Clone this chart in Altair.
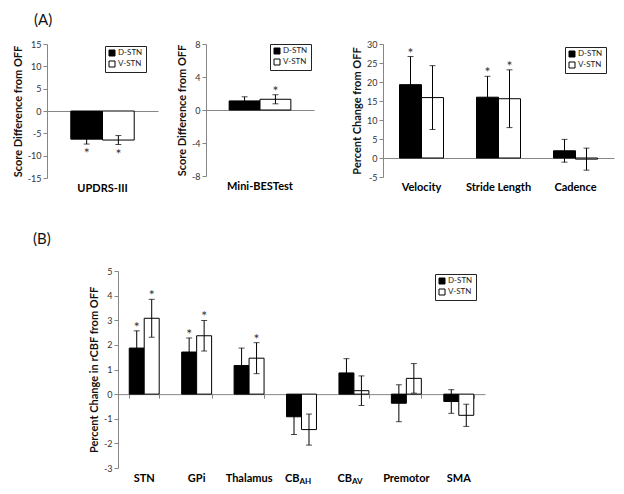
import altair as alt
import pandas as pd

FONT = "Lato"
AX = "#868686"
groups = ["D-STN", "V-STN"]

# Panel A1: UPDRS-III (score difference from OFF)
updrs_cats = ["UPDRS-III"]
updrs_d = [-6.3]
updrs_d_err = [1.1]
updrs_v = [-6.5]
updrs_v_err = [1.0]
updrs_d_sig = [1]
updrs_v_sig = [1]

# Panel A2: Mini-BESTest
mb_cats = ["Mini-BESTest"]
mb_d = [1.1]
mb_d_err = [0.5]
mb_v = [1.3]
mb_v_err = [0.55]
mb_d_sig = [0]
mb_v_sig = [1]

# Panel A3: gait (percent change from OFF)
gait_cats = ["Velocity", "Stride Length", "Cadence"]
gait_d = [19.3, 16.0, 1.9]
gait_d_err = [7.4, 5.5, 3.0]
gait_v = [15.9, 15.6, -0.3]
gait_v_err = [8.4, 7.6, 2.9]
gait_d_sig = [1, 1, 0]
gait_v_sig = [0, 1, 0]

# Panel B: rCBF
cbf_cats = ["STN", "GPi", "Thalamus", "CB_AH", "CB_AV", "Premotor", "SMA"]
cbf_main = ["STN", "GPi", "Thalamus", "CB", "CB", "Premotor", "SMA"]
cbf_sub = ["", "", "", "AH", "AV", "", ""]
cbf_d = [1.87, 1.71, 1.16, -0.92, 0.86, -0.37, -0.30]
cbf_d_err = [0.70, 0.57, 0.71, 0.72, 0.58, 0.75, 0.48]
cbf_v = [3.08, 2.37, 1.46, -1.44, 0.14, 0.64, -0.86]
cbf_v_err = [0.77, 0.62, 0.63, 0.63, 0.60, 0.60, 0.45]
cbf_d_sig = [1, 1, 0, 0, 0, 0, 0]
cbf_v_sig = [1, 1, 1, 0, 0, 0, 0]


def make_df(cats, dv, de, vv, ve, ds, vs):
    rows = []
    for i, c in enumerate(cats):
        for g, v, e, s in (("D-STN", dv[i], de[i], ds[i]), ("V-STN", vv[i], ve[i], vs[i])):
            rows.append(dict(cat=c, grp=g, val=v, err=e, lo=v - e, hi=v + e, sig=s,
                             pos=1 if v >= 0 else 0, star=(v + e) if v >= 0 else (v - e)))
    return pd.DataFrame(rows)


def panel(df, cats, mains, subs, ydom, yticks, ytitle, w, h, xrange=None, yoff=0,
          lx=0, ly=0, ticks=False, title=None):
    sk = dict(domain=cats, paddingInner=3 / 7, paddingOuter=3 / 14)
    if xrange is not None:
        sk["range"] = xrange
    xs = alt.Scale(**sk)
    zero_off = -h * (0 - ydom[0]) / (ydom[1] - ydom[0])
    xax = alt.Axis(orient="bottom", offset=zero_off, labels=False, title=None,
                   domainColor=AX, domainWidth=1, ticks=ticks, tickBand="extent",
                   tickSize=4, tickColor=AX, grid=False)
    X = alt.X("cat:N", scale=xs, axis=xax, title=None)
    XO = alt.XOffset("grp:N", scale=alt.Scale(domain=groups, paddingInner=0, paddingOuter=0))
    ys = alt.Scale(domain=ydom, nice=False)
    yax = alt.Axis(values=yticks, title=ytitle, titleFont=FONT, titleFontSize=11,
                   titleFontWeight="bold", titleColor="#111", labelFont=FONT,
                   labelFontSize=9, labelColor="#333", domainColor=AX, tickColor=AX,
                   tickSize=4, labelPadding=2, titlePadding=4, grid=False, offset=yoff,
                   labelExpr="'' + datum.value")

    def Y(f):
        return alt.Y(f"{f}:Q", scale=ys, axis=yax, title=ytitle)

    base = alt.Chart(df)
    bars = base.mark_bar(stroke="black", strokeWidth=1).encode(
        x=X, xOffset=XO, y=Y("val"),
        color=alt.Color("grp:N", scale=alt.Scale(domain=groups, range=["#000000", "#ffffff"]),
                        legend=alt.Legend(title=None, orient="none", legendX=lx, legendY=ly,
                                          direction="vertical", symbolType="square",
                                          symbolSize=36, symbolStrokeColor="black",
                                          symbolStrokeWidth=1, labelFont=FONT,
                                          labelFontSize=8, labelColor="#222", labelOffset=2,
                                          strokeColor="#222", fillColor="white",
                                          padding=3, rowPadding=1)))
    err = base.mark_rule(color="black", strokeWidth=1).encode(
        x=X, xOffset=XO, y=Y("lo"), y2="hi:Q")
    cap_lo = base.mark_tick(color="black", size=6, thickness=1).encode(x=X, xOffset=XO, y=Y("lo"))
    cap_hi = base.mark_tick(color="black", size=6, thickness=1).encode(x=X, xOffset=XO, y=Y("hi"))
    star_up = base.transform_filter("datum.sig == 1 && datum.pos == 1").mark_text(
        text="*", font=FONT, fontSize=14, baseline="middle", dy=-3, color="#333").encode(
        x=X, xOffset=XO, y=Y("star"))
    star_dn = base.transform_filter("datum.sig == 1 && datum.pos == 0").mark_text(
        text="*", font=FONT, fontSize=14, baseline="middle", dy=10, color="#333").encode(
        x=X, xOffset=XO, y=Y("star"))
    lab = pd.DataFrame({"cat": cats, "main": mains, "sub": subs})
    lb = alt.Chart(lab)
    lab_c = lb.transform_filter("datum.sub == ''").mark_text(
        font=FONT, fontSize=11, fontWeight="bold", baseline="middle", align="center",
        color="black").encode(x=X, y=alt.value(h + 11), text="main:N")
    lab_m = lb.transform_filter("datum.sub != ''").mark_text(
        font=FONT, fontSize=11, fontWeight="bold", baseline="middle", align="right", dx=-2,
        color="black").encode(x=X, y=alt.value(h + 11), text="main:N")
    lab_s = lb.transform_filter("datum.sub != ''").mark_text(
        font=FONT, fontSize=8, fontWeight="bold", baseline="middle", align="left", dx=-2,
        dy=3, color="black").encode(x=X, y=alt.value(h + 11), text="sub:N")
    layers = [bars, err, cap_lo, cap_hi, star_up, star_dn, lab_c]
    if any(s != "" for s in subs):
        layers += [lab_m, lab_s]
    props = dict(width=w, height=h)
    if title is not None:
        props["title"] = title
    return alt.layer(*layers).properties(**props)


p1 = panel(make_df(updrs_cats, updrs_d, updrs_d_err, updrs_v, updrs_v_err, updrs_d_sig, updrs_v_sig),
           updrs_cats, updrs_cats, [""], [-15, 15], list(range(-15, 16, 5)),
           "Score Difference from OFF", 111, 134, lx=58, ly=2)
p2 = panel(make_df(mb_cats, mb_d, mb_d_err, mb_v, mb_v_err, mb_d_sig, mb_v_sig),
           mb_cats, mb_cats, [""], [-8, 8], [-8, -4, 0, 4, 8],
           "Score Difference from OFF", 129, 132, xrange=[0, 108], lx=64, ly=0)
p3 = panel(make_df(gait_cats, gait_d, gait_d_err, gait_v, gait_v_err, gait_d_sig, gait_v_sig),
           gait_cats, gait_cats, ["", "", ""], [-5, 30], list(range(-5, 31, 5)),
           "Percent Change from OFF", 231, 133, lx=182, ly=3)
pB = panel(make_df(cbf_cats, cbf_d, cbf_d_err, cbf_v, cbf_v_err, cbf_d_sig, cbf_v_sig),
           cbf_cats, cbf_main, cbf_sub, [-3, 5], list(range(-3, 6)),
           "Percent Change in rCBF from OFF", 438, 197, xrange=[71, 438], yoff=-71,
           lx=388, ly=3, ticks=True,
           title=alt.TitleParams("(B)", anchor="start", frame="group", dx=-14, offset=20,
                                 fontSize=15, fontWeight="normal", font=FONT, color="#111"))

RES = dict(color="independent", x="independent", y="independent", xOffset="independent")

top = alt.hconcat(p1, p2, p3, spacing=48, bounds="flush").resolve_scale(**RES)

chart = alt.vconcat(top, pB, spacing=227, bounds="flush").resolve_scale(**RES).properties(
    title=alt.TitleParams("(A)", anchor="start", frame="group", dx=-13, offset=12,
                          fontSize=15, fontWeight="normal", font=FONT, color="#111"),
    padding={"left": 4, "top": 5, "right": 2, "bottom": 0}
).configure_view(stroke=None)

chart.save("out.html", embed_options={"renderer": "svg", "actions": False})
